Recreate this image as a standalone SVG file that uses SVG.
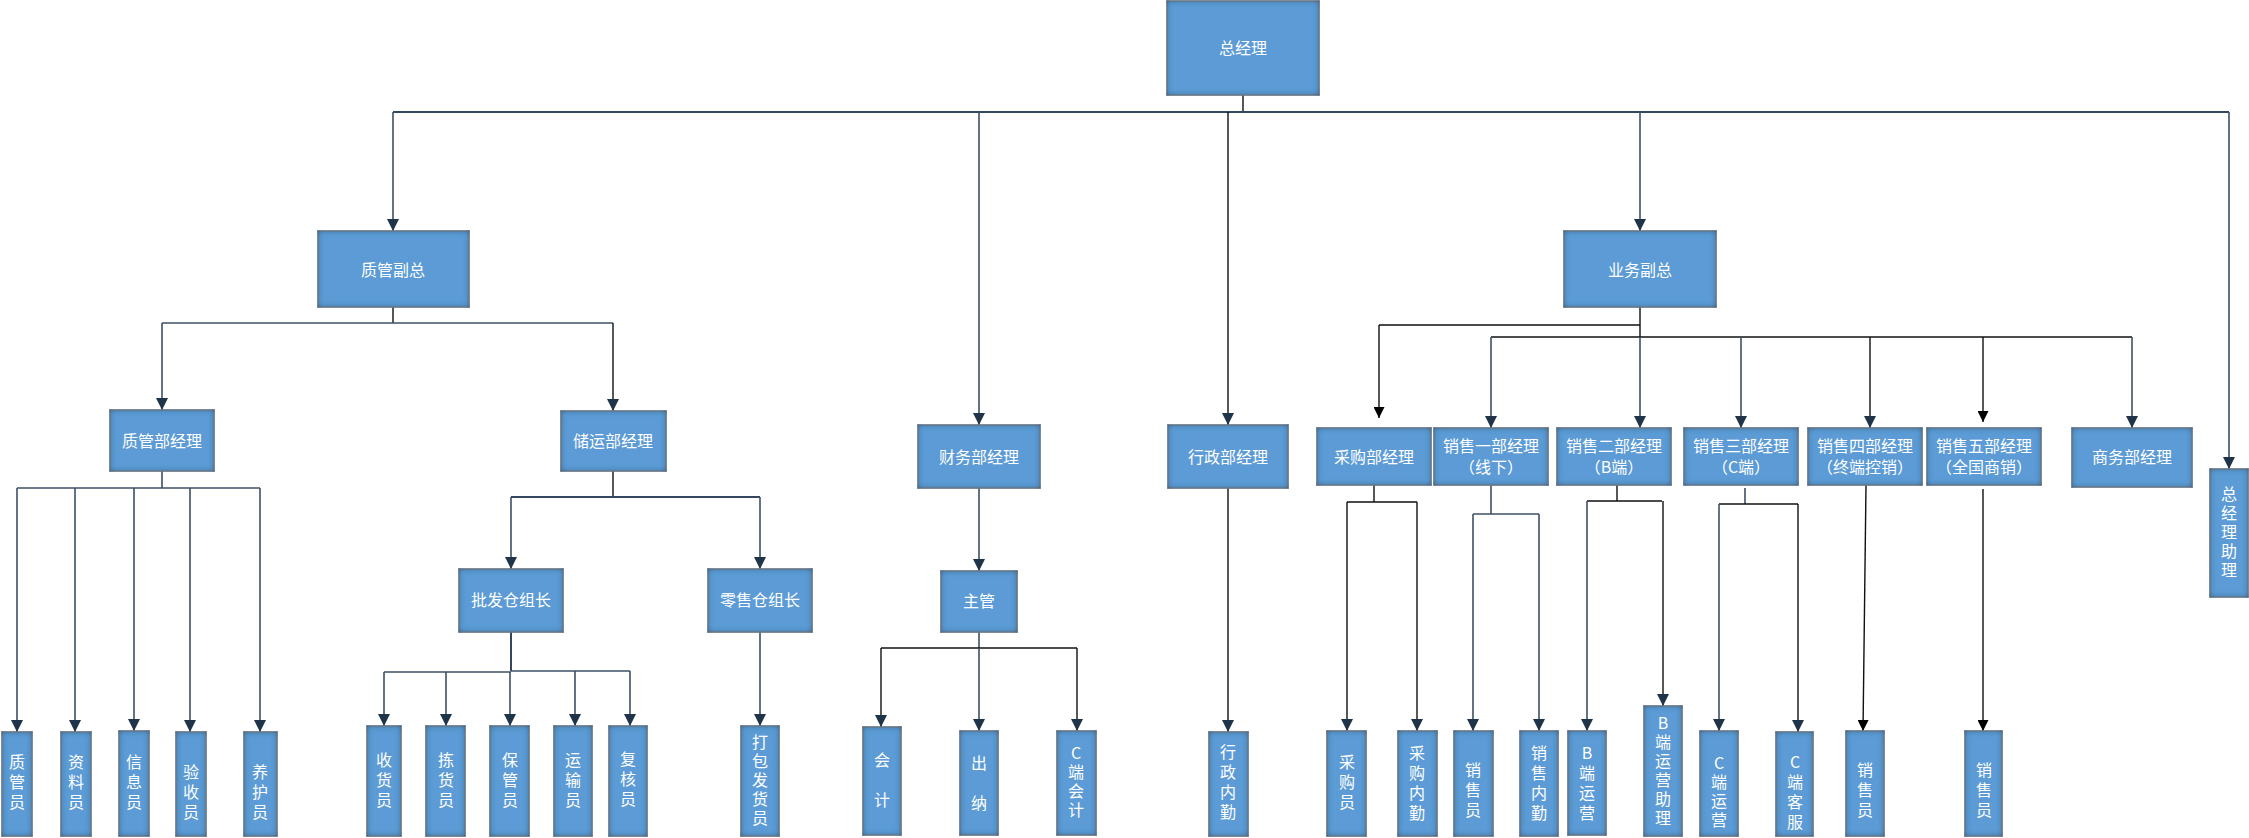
<svg xmlns="http://www.w3.org/2000/svg" width="2249" height="838" viewBox="0 0 2249 838">
<style>
.box{fill:#5B9BD5;stroke:#7f8c99;stroke-width:1.5;filter:url(#inner)}
.t{fill:#ffffff;font-family:"Noto Sans CJK SC","Microsoft YaHei",sans-serif;font-size:16px;text-anchor:middle}
.v{writing-mode:vertical-rl;text-orientation:upright;letter-spacing:4px}
.v2{letter-spacing:24px}
.v3{letter-spacing:3px}
.c{fill:none;stroke:#3E5166;stroke-width:1.6}
.bus{fill:none;stroke:#34475c;stroke-width:2}
.k{fill:none;stroke:#111111;stroke-width:1.4}
.a{marker-end:url(#arr)}
.ak{marker-end:url(#arrk)}
</style>
<defs>
<filter id="inner" x="-20%" y="-20%" width="140%" height="140%">
<feFlood flood-color="#24486c" result="c"/>
<feComposite in="c" in2="SourceAlpha" operator="out" result="inv"/>
<feGaussianBlur in="inv" stdDeviation="3" result="b"/>
<feComposite in="b" in2="SourceAlpha" operator="in" result="sh"/>
<feMerge><feMergeNode in="SourceGraphic"/><feMergeNode in="sh"/></feMerge>
</filter>
<marker id="arr" markerUnits="userSpaceOnUse" markerWidth="12" markerHeight="12" refX="10" refY="5" orient="auto" viewBox="0 0 10 10">
<path d="M0,0 L10,5 L0,10 z" fill="#1F3349"/>
</marker>
<marker id="arrk" markerUnits="userSpaceOnUse" markerWidth="11" markerHeight="11" refX="10" refY="5" orient="auto" viewBox="0 0 10 10">
<path d="M0,0 L10,5 L0,10 z" fill="#000000"/>
</marker>
</defs>
<rect width="2249" height="838" fill="#ffffff"/>

<g id="connectors">
<path class="k" d="M1243,95 V112"/>
<path class="bus" d="M393,112 H2229"/>
<path class="c a" d="M393,112 V231"/>
<path class="c a" d="M979,112 V425"/>
<path class="k a" d="M1228,112 V425"/>
<path class="c a" d="M1640,112 V231"/>
<path class="c a" d="M2229,112 V469"/>

<path class="k" d="M393,307 V323"/>
<path class="c" d="M162,323 H613"/>
<path class="c a" d="M162,323 V410"/>
<path class="k a" d="M613,323 V411"/>

<path class="c" d="M162,471 V488"/>
<path class="c" d="M17,488 H260"/>
<path class="c a" d="M17,488 V732"/>
<path class="c a" d="M75,488 V732"/>
<path class="c a" d="M134,488 V731"/>
<path class="c a" d="M190,488 V732"/>
<path class="c a" d="M260,488 V732"/>

<path class="k" d="M613,471 V497"/>
<path class="bus" d="M511,497 H760"/>
<path class="c a" d="M511,497 V569"/>
<path class="c a" d="M760,497 V569"/>

<path class="bus" d="M511,632 V671"/>
<path class="c" d="M384,672 H511 M511,671 H630"/>
<path class="c a" d="M384,672 V726"/>
<path class="c a" d="M446,672 V726"/>
<path class="c a" d="M510,672 V726"/>
<path class="c a" d="M575,671 V726"/>
<path class="c a" d="M630,671 V726"/>
<path class="c a" d="M760,632 V726"/>

<path class="c a" d="M979,488 V571"/>
<path class="c" d="M979,632 V648"/>
<path class="k" d="M881,648 H1077"/>
<path class="k a" d="M881,648 V727"/>
<path class="c a" d="M979,648 V731"/>
<path class="k a" d="M1077,648 V731"/>

<path class="k a" d="M1228,488 V732"/>

<path class="k" d="M1640,307 V337"/>
<path class="k" d="M1379,325 H1640"/>
<path class="k ak" d="M1379,325 V418"/>
<path class="k" d="M1491,337 H2132"/>
<path class="c a" d="M1491,337 V428"/>
<path class="c a" d="M1640,337 V428"/>
<path class="c a" d="M1741,337 V428"/>
<path class="k a" d="M1870,337 V428"/>
<path class="k ak" d="M1983,337 V422"/>
<path class="c a" d="M2132,337 V428"/>

<path class="k" d="M1374,485 V502 M1347,502 H1417"/>
<path class="k a" d="M1347,502 V731"/>
<path class="k a" d="M1417,502 V731"/>
<path class="c" d="M1491,485 V514"/>
<path class="c" d="M1473,514 H1539"/>
<path class="c a" d="M1473,514 V731"/>
<path class="c a" d="M1539,514 V731"/>
<path class="k" d="M1617,485 V501 M1587,501 H1662"/>
<path class="c a" d="M1587,501 V731"/>
<path class="k a" d="M1663,501 V706"/>
<path class="c" d="M1745,488 V504"/>
<path class="k" d="M1719,504 H1798"/>
<path class="c a" d="M1719,504 V731"/>
<path class="k a" d="M1798,504 V732"/>
<path class="k ak" d="M1866,485 L1863,731"/>
<path class="k ak" d="M1983,489 V731"/>
</g>

<g id="n-ceo"><rect class="box" x="1167" y="1" width="152" height="94"/><text class="t" x="1243" y="54">总经理</text></g>
<g id="n-zgvp"><rect class="box" x="318" y="231" width="151" height="76"/><text class="t" x="393" y="276">质管副总</text></g>
<g id="n-zgmgr"><rect class="box" x="110" y="410" width="104" height="61"/><text class="t" x="162" y="447">质管部经理</text></g>
<g id="n-cymgr"><rect class="box" x="561" y="411" width="105" height="60"/><text class="t" x="613" y="447">储运部经理</text></g>
<g id="n-pf"><rect class="box" x="459" y="569" width="104" height="63"/><text class="t" x="511" y="606">批发仓组长</text></g>
<g id="n-ls"><rect class="box" x="708" y="569" width="104" height="63"/><text class="t" x="760" y="606">零售仓组长</text></g>
<g id="n-cwmgr"><rect class="box" x="918" y="425" width="122" height="63"/><text class="t" x="979" y="463">财务部经理</text></g>
<g id="n-zhuguan"><rect class="box" x="941" y="571" width="76" height="61"/><text class="t" x="979" y="607">主管</text></g>
<g id="n-xzmgr"><rect class="box" x="1168" y="425" width="120" height="63"/><text class="t" x="1228" y="463">行政部经理</text></g>
<g id="n-ywvp"><rect class="box" x="1564" y="231" width="152" height="76"/><text class="t" x="1640" y="276">业务副总</text></g>
<g id="n-cgmgr"><rect class="box" x="1317" y="428" width="114" height="57"/><text class="t" x="1374" y="463">采购部经理</text></g>
<g id="n-xs1"><rect class="box" x="1434" y="428" width="114" height="57"/><text class="t" x="1491" y="452">销售一部经理</text><text class="t" x="1491" y="473">（线下）</text></g>
<g id="n-xs2"><rect class="box" x="1557" y="428" width="114" height="57"/><text class="t" x="1614" y="452">销售二部经理</text><text class="t" x="1614" y="473">（B端）</text></g>
<g id="n-xs3"><rect class="box" x="1684" y="428" width="114" height="57"/><text class="t" x="1741" y="452">销售三部经理</text><text class="t" x="1741" y="473">（C端）</text></g>
<g id="n-xs4"><rect class="box" x="1808" y="428" width="114" height="57"/><text class="t" x="1865" y="452">销售四部经理</text><text class="t" x="1865" y="473">（终端控销）</text></g>
<g id="n-xs5"><rect class="box" x="1927" y="428" width="114" height="57"/><text class="t" x="1984" y="452">销售五部经理</text><text class="t" x="1984" y="473">（全国商销）</text></g>
<g id="n-swmgr"><rect class="box" x="2072" y="428" width="120" height="59"/><text class="t" x="2132" y="463">商务部经理</text></g>
<g id="n-zjlzl"><rect class="box" x="2210" y="469" width="38" height="128"/><text class="t v v3" x="2229" y="533">总经理助理</text></g>

<g id="n-zgy"><rect class="box" x="2" y="732" width="30" height="104"/><text class="t v" x="17" y="784">质管员</text></g>
<g id="n-zly"><rect class="box" x="61" y="732" width="30" height="104"/><text class="t v" x="76" y="784">资料员</text></g>
<g id="n-xxy"><rect class="box" x="119" y="731" width="30" height="105"/><text class="t v" x="134" y="784">信息员</text></g>
<g id="n-ysy"><rect class="box" x="176" y="732" width="30" height="104"/><text class="t v" x="191" y="794">验收员</text></g>
<g id="n-yhy"><rect class="box" x="244" y="732" width="33" height="104"/><text class="t v" x="260" y="794">养护员</text></g>

<g id="n-shy"><rect class="box" x="367" y="726" width="34" height="110"/><text class="t v" x="384" y="782">收货员</text></g>
<g id="n-jhy"><rect class="box" x="426" y="726" width="39" height="110"/><text class="t v" x="446" y="782">拣货员</text></g>
<g id="n-bgy"><rect class="box" x="490" y="726" width="39" height="110"/><text class="t v" x="510" y="782">保管员</text></g>
<g id="n-ysy2"><rect class="box" x="554" y="726" width="38" height="110"/><text class="t v" x="573" y="782">运输员</text></g>
<g id="n-fhy"><rect class="box" x="609" y="726" width="38" height="110"/><text class="t v" x="628" y="781">复核员</text></g>
<g id="n-dbfhy"><rect class="box" x="741" y="726" width="38" height="110"/><text class="t v v3" x="760" y="781">打包发货员</text></g>

<g id="n-kj"><rect class="box" x="863" y="727" width="38" height="108"/><text class="t v v2" x="882" y="792">会计</text></g>
<g id="n-cn"><rect class="box" x="960" y="731" width="38" height="104"/><text class="t v v2" x="979" y="795">出纳</text></g>
<g id="n-cdkj"><rect class="box" x="1057" y="731" width="39" height="104"/><text class="t v v3" x="1076" y="783">C端会计</text></g>
<g id="n-xznq"><rect class="box" x="1209" y="732" width="39" height="104"/><text class="t v" x="1228" y="784">行政内勤</text></g>

<g id="n-cgy"><rect class="box" x="1327" y="731" width="39" height="105"/><text class="t v" x="1347" y="784">采购员</text></g>
<g id="n-cgnq"><rect class="box" x="1398" y="731" width="39" height="105"/><text class="t v" x="1417" y="785">采购内勤</text></g>
<g id="n-xsy1"><rect class="box" x="1454" y="731" width="39" height="105"/><text class="t v" x="1473" y="792">销售员</text></g>
<g id="n-xsnq"><rect class="box" x="1520" y="731" width="38" height="105"/><text class="t v" x="1539" y="785">销售内勤</text></g>
<g id="n-bdyy"><rect class="box" x="1568" y="731" width="38" height="104"/><text class="t v" x="1587" y="785">B端运营</text></g>
<g id="n-bdyyzl"><rect class="box" x="1644" y="706" width="38" height="130"/><text class="t v v3" x="1663" y="772">B端运营助理</text></g>
<g id="n-cdyy"><rect class="box" x="1700" y="731" width="38" height="105"/><text class="t v v3" x="1719" y="793">C端运营</text></g>
<g id="n-cdkf"><rect class="box" x="1776" y="732" width="37" height="104"/><text class="t v" x="1795" y="794">C端客服</text></g>
<g id="n-xsy4"><rect class="box" x="1846" y="731" width="38" height="105"/><text class="t v" x="1865" y="792">销售员</text></g>
<g id="n-xsy5"><rect class="box" x="1965" y="731" width="37" height="105"/><text class="t v" x="1984" y="792">销售员</text></g>
</svg>
